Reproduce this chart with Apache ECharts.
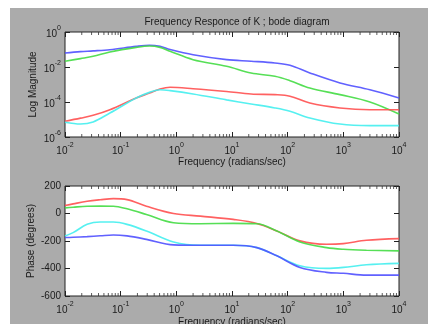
<!DOCTYPE html>
<html><head><meta charset="utf-8">
<script src="https://cdn.jsdelivr.net/npm/echarts@6/dist/echarts.min.js"></script>
<style>html,body{margin:0;padding:0;background:#fff}#c{width:428px;height:324px}</style>
</head><body><div id="c"></div>
<script>
// ---- data ----
const magFreq   = [0.01, 0.019, 0.032, 0.064, 0.19, 0.33, 0.51, 0.77, 2, 8, 22, 59, 110, 250, 870, 3000, 10000];
const magBlue   = [0.0631, 0.0759, 0.0832, 0.0977, 0.151, 0.174, 0.151, 0.1, 0.0501, 0.0263, 0.0214, 0.017, 0.0126, 0.00457, 0.00123, 5.01e-4, 1.70e-4];
const magGreen  = [0.0214, 0.0302, 0.0407, 0.0724, 0.132, 0.158, 0.132, 0.0794, 0.0263, 0.011, 0.00457, 0.00295, 0.00166, 6.31e-4, 2.63e-4, 1.0e-4, 2.04e-5];
const magRed    = [7.94e-6, 1.20e-5, 1.74e-5, 3.63e-5, 1.70e-4, 3.24e-4, 5.50e-4, 6.92e-4, 5.75e-4, 3.98e-4, 2.88e-4, 2.63e-4, 2.14e-4, 8.71e-5, 4.57e-5, 3.63e-5, 3.63e-5];
const magCyan   = [6.92e-6, 5.50e-6, 7.24e-6, 2.34e-5, 1.70e-4, 3.55e-4, 5.01e-4, 4.47e-4, 2.88e-4, 1.32e-4, 7.76e-5, 4.57e-5, 2.95e-5, 1.23e-5, 5.50e-6, 4.47e-6, 4.47e-6];

const phaseFreq  = [0.01, 0.014, 0.025, 0.043, 0.074, 0.13, 0.29, 0.89, 2.7, 10.5, 28, 64, 166, 500, 1000, 2600, 10000];
const phaseRed   = [58, 70, 89, 100, 108, 101, 53, 0, -19, -43, -72, -127, -199, -224, -219, -195, -183];
const phaseGreen = [41, 46, 53, 54, 53, 34, -7, -67, -74, -72, -74, -127, -207, -248, -260, -267, -272];
const phaseCyan  = [-163, -139, -79, -62, -62, -79, -127, -207, -231, -231, -248, -308, -380, -399, -392, -373, -363];
const phaseBlue  = [-175, -173, -168, -162, -156, -163, -188, -228, -231, -231, -248, -308, -392, -428, -435, -448, -448];

const freqMin = 0.01, freqMax = 10000;
const magMin = 1e-6, magMax = 1;
const phaseMin = -600, phaseMax = 200;

const titleText = 'Frequency Responce of K ; bode diagram';
const xName = 'Frequency (radians/sec)';
const magName = 'Log Magnitude';
const phaseName = 'Phase (degrees)';

const colors = {blue: '#5050ff', green: '#44dc44', red: '#ff5050', cyan: '#44eeee'};

// minor tick positions on the log frequency axis (2..9 x 10^k)
const minorFreq = [];
for (let k = -2; k < 4; k++) for (let m = 2; m <= 9; m++) minorFreq.push(m * Math.pow(10, k));

const FONT = '"Liberation Sans", Arial, sans-serif';
const TXT = '#1a1a1a';

function pow10Label(v) {
  const e = Math.round(Math.log10(v));
  return '{b|10}{s|' + e + '}';
}
const richPow = {
  b: {fontSize: 10, fontFamily: FONT, color: TXT, lineHeight: 14, verticalAlign: 'bottom'},
  s: {fontSize: 7, fontFamily: FONT, color: TXT, lineHeight: 14, verticalAlign: 'top'}
};

function pair(xs, ys) { return xs.map((x, i) => [x, ys[i]]); }

const grids = [
  {left: 65, top: 32, width: 334, height: 105},
  {left: 65, top: 186, width: 334, height: 110}
];
const tickStyle = {show: true, inside: true, length: 5, lineStyle: {color: '#222'}};
const nameStyle = {fontSize: 10, fontFamily: FONT, color: TXT};

function xAxes(gi, gap) {
  return [
    {
      type: 'log', logBase: 10, gridIndex: gi, min: freqMin, max: freqMax, interval: 1,
      axisLine: {show: false, onZero: false},
      axisTick: tickStyle,
      splitLine: {show: false},
      axisLabel: {formatter: pow10Label, rich: richPow, margin: 5, color: TXT},
      name: xName, nameLocation: 'middle', nameGap: gap, nameMoveOverlap: false,
      nameTextStyle: nameStyle
    },
    {
      type: 'log', logBase: 10, gridIndex: gi, position: 'top', min: freqMin, max: freqMax, interval: 1,
      axisLine: {show: false, onZero: false},
      axisTick: tickStyle,
      splitLine: {show: false}, axisLabel: {show: false}
    }
  ];
}

const option = {
  backgroundColor: '#ffffff',
  animation: false,
  graphic: [
    {type: 'rect', z: -10, silent: true, shape: {x: 10, y: 8, width: 418, height: 316}, style: {fill: '#ababab'}}
  ],
  title: {
    text: titleText, left: 232, top: 12, textAlign: 'center',
    textStyle: {fontSize: 10, fontWeight: 'normal', fontFamily: FONT, color: TXT}
  },
  grid: grids.map(g => Object.assign({show: true, outerBoundsMode: 'none', containLabel: false,
    backgroundColor: '#ffffff', borderColor: '#222', borderWidth: 1}, g)),
  xAxis: [].concat(xAxes(0, 20), xAxes(1, 21)),
  yAxis: [
    {
      type: 'log', logBase: 10, gridIndex: 0, min: magMin, max: magMax, interval: 2,
      axisLine: {show: false, onZero: false},
      axisTick: tickStyle,
      splitLine: {show: false},
      axisLabel: {formatter: pow10Label, rich: richPow, margin: 4},
      name: magName, nameLocation: 'middle', nameGap: 27, nameMoveOverlap: false,
      nameTextStyle: nameStyle
    },
    {
      type: 'log', logBase: 10, gridIndex: 0, position: 'right', min: magMin, max: magMax, interval: 2,
      axisLine: {show: false, onZero: false},
      axisTick: tickStyle,
      splitLine: {show: false}, axisLabel: {show: false}
    },
    {
      type: 'value', gridIndex: 1, min: phaseMin, max: phaseMax, interval: 200,
      axisLine: {show: false, onZero: false},
      axisTick: tickStyle,
      splitLine: {show: false},
      axisLabel: {fontSize: 10, fontFamily: FONT, color: TXT, margin: 4},
      name: phaseName, nameLocation: 'middle', nameGap: 29, nameMoveOverlap: false,
      nameTextStyle: nameStyle
    },
    {
      type: 'value', gridIndex: 1, position: 'right', min: phaseMin, max: phaseMax, interval: 200,
      axisLine: {show: false, onZero: false},
      axisTick: tickStyle,
      splitLine: {show: false}, axisLabel: {show: false}
    }
  ],
  series: []
};

function lineSeries(name, data, color, xi, yi) {
  return {
    type: 'line', name: name, data: data, xAxisIndex: xi, yAxisIndex: yi,
    smooth: 0.35, showSymbol: false, symbol: 'none',
    lineStyle: {color: color, width: 1.6, opacity: 0.9}, z: 3
  };
}

option.series.push(
  lineSeries('blue', pair(magFreq, magBlue), colors.blue, 0, 0),
  lineSeries('green', pair(magFreq, magGreen), colors.green, 0, 0),
  lineSeries('red', pair(magFreq, magRed), colors.red, 0, 0),
  lineSeries('cyan', pair(magFreq, magCyan), colors.cyan, 0, 0),
  lineSeries('red', pair(phaseFreq, phaseRed), colors.red, 2, 2),
  lineSeries('green', pair(phaseFreq, phaseGreen), colors.green, 2, 2),
  lineSeries('cyan', pair(phaseFreq, phaseCyan), colors.cyan, 2, 2),
  lineSeries('blue', pair(phaseFreq, phaseBlue), colors.blue, 2, 2)
);

// minor ticks on the log frequency axis, placed through the axis scale as tiny rect symbols
function minorTickSeries(xi, yi, yVal, dir) {
  return {
    type: 'scatter', xAxisIndex: xi, yAxisIndex: yi, silent: true, z: 4, clip: false,
    symbol: 'rect', symbolSize: [1, 3], symbolOffset: [0, dir * 1.5],
    itemStyle: {color: '#333'},
    data: minorFreq.map(v => [v, yVal])
  };
}
option.series.push(
  minorTickSeries(0, 0, magMin, -1), minorTickSeries(0, 0, magMax, 1),
  minorTickSeries(2, 2, phaseMin, -1), minorTickSeries(2, 2, phaseMax, 1)
);

const chart = echarts.init(document.getElementById('c'), null, {renderer: 'canvas'});
chart.setOption(option);
</script>
</body></html>
